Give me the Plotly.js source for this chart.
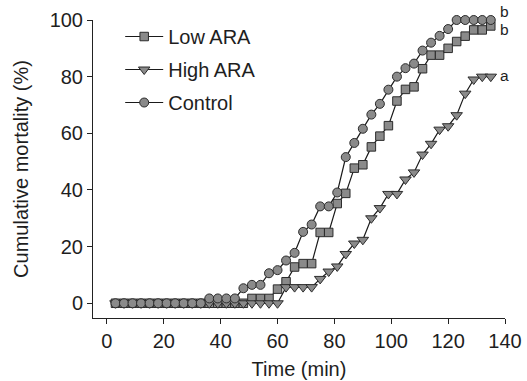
<!DOCTYPE html>
<html>
<head>
<meta charset="utf-8">
<script src="https://cdn.plot.ly/plotly-3.0.1.min.js"></script>
<style>html,body{margin:0;padding:0;background:#fff;}#chart{width:527px;height:381px;}</style>
</head>
<body>
<div id="chart"></div>
<script>
const timeMin = [3,6,9,12,15,18,21,24,27,30,33,36,39,42,45,48,51,54,57,60,63,66,69,72,75,78,81,84,87,90,93,96,99,102,105,108,111,114,117,120,123,126,129,132,135];

const lowARA = [0,0,0,0,0,0,0,0,0,0,0,0,0,0,0,0,1.7,1.7,1.7,5,7.6,12.8,14,14,25,25,35.2,38.8,47.7,48.9,55.2,59,62.7,71.4,75.5,76.4,82.8,87.6,87.6,90,92.4,94.3,96.5,96.5,97.9];

const highARA = [0,0,0,0,0,0,0,0,0,0,0,0,0,0,0,0,0,0,0,0,5.7,5.7,5.7,5.7,8.6,11.2,13,17.4,21.1,22.4,30,33.6,38.6,38.6,43.7,46.2,52.5,56.3,61.3,62.5,66.4,74,79,80,80];

const control = [0,0,0,0,0,0,0,0,0,0,0,1.7,1.7,1.7,1.7,5.3,6.5,6.5,10.6,11.7,15.1,17.8,25.2,27.8,34.2,34.2,39.1,51.6,56.6,61.6,66.6,70.4,75.4,80,83,84.6,89.2,92,94.4,96.8,100,100,100,100,100];

const seriesNames = ['Low ARA', 'High ARA', 'Control'];
const groupLetters = ['b', 'a', 'b'];
const xTicks = [0,20,40,60,80,100,120,140];
const yTicks = [0,20,40,60,80,100];

const FONT = 'Liberation Sans, Arial, sans-serif';
const TXT = '#1e1e1e';
const fill = '#8a8a8a';
const edge = '#2b2b2b';

function tr(name, y, symbol, size) {
  return {
    x: timeMin, y: y, name: name, legendgroup: name, type: 'scatter', mode: 'lines+markers',
    cliponaxis: false,
    line: {color: '#1a1a1a', width: 1.2},
    marker: {symbol: symbol, size: size, color: fill, line: {color: edge, width: 1}}
  };
}

const data = [
  tr(seriesNames[0], lowARA, 'square', 8.5),
  tr(seriesNames[1], highARA, 'triangle-down', 10),
  tr(seriesNames[2], control, 'circle', 9)
];

const last = timeMin.length - 1;
const annotations = [
  {x: timeMin[last], y: control[last], text: groupLetters[2], xshift: 14, yshift: 9},
  {x: timeMin[last], y: lowARA[last], text: groupLetters[0], xshift: 14, yshift: -4},
  {x: timeMin[last], y: highARA[last], text: groupLetters[1], xshift: 14, yshift: 1}
].map(a => Object.assign(a, {xref: 'x', yref: 'y', showarrow: false, xanchor: 'center',
  font: {family: FONT, size: 15.5, color: TXT}}));

const layout = {
  width: 527, height: 381,
  margin: {l: 93, r: 22, t: 20, b: 63},
  paper_bgcolor: '#fff', plot_bgcolor: '#fff',
  font: {family: FONT, size: 20, color: TXT},
  showlegend: true,
  legend: {x: 0.066, y: 1.01, xanchor: 'left', yanchor: 'top', bgcolor: 'rgba(0,0,0,0)',
    font: {family: FONT, size: 20, color: TXT}, tracegroupgap: 4, itemwidth: 38},
  xaxis: {
    range: [-4.9, 140], tickvals: xTicks, ticktext: xTicks.map(String),
    showgrid: false, zeroline: false, showline: true, linecolor: '#222', linewidth: 1,
    ticks: 'outside', ticklen: 5, tickcolor: '#222', tickwidth: 1,
    tickfont: {family: FONT, size: 20, color: TXT},
    title: {text: 'Time (min)', font: {family: FONT, size: 20, color: TXT}, standoff: 10}
  },
  yaxis: {
    range: [-5.2, 100], tickvals: yTicks, ticktext: yTicks.map(String),
    showgrid: false, zeroline: false, showline: true, linecolor: '#222', linewidth: 1,
    ticks: 'outside', ticklen: 5, tickcolor: '#222', tickwidth: 1,
    tickfont: {family: FONT, size: 20, color: TXT},
    title: {text: 'Cumulative mortality (%)', font: {family: FONT, size: 20, color: TXT}, standoff: 15}
  },
  annotations: annotations
};

Plotly.newPlot('chart', data, layout, {displayModeBar: false, staticPlot: true});
</script>
</body>
</html>
